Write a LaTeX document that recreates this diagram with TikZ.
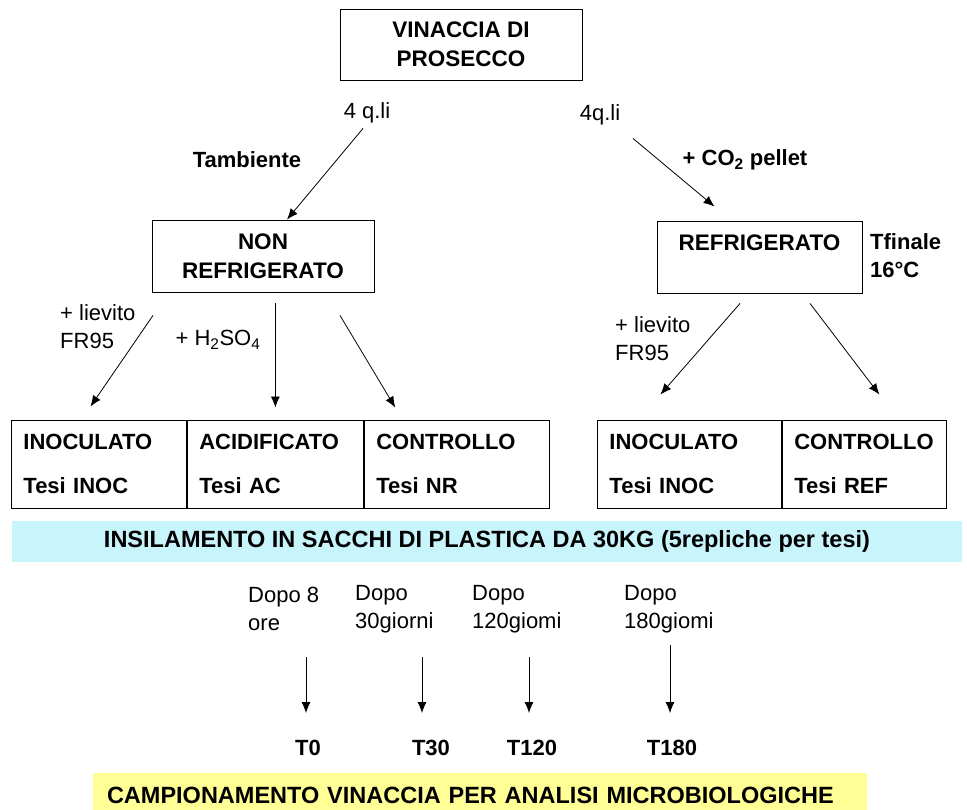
\documentclass[tikz,border=0pt]{standalone}
\usepackage{fontspec}
\setmainfont{Liberation Sans}
\usetikzlibrary{arrows.meta,calc,positioning}

\definecolor{bandcyan}{RGB}{200,245,252}
\definecolor{bandyellow}{RGB}{255,255,150}

\tikzset{
  box/.style={draw, line width=0.9pt, align=center, inner sep=0pt,
    font=\bfseries\fontsize{22.5}{29}\selectfont},
  cell/.style={draw, line width=0.9pt, anchor=west, align=left,
    inner xsep=12pt, inner ysep=0pt, minimum height=88pt,
    font=\bfseries\fontsize{22}{44}\selectfont},
  lbl/.style={inner sep=0pt, font=\fontsize{22}{28}\selectfont},
  blbl/.style={inner sep=0pt, font=\bfseries\fontsize{22}{28}\selectfont},
  band/.style={inner sep=0pt, font=\bfseries\fontsize{23.5}{28}\selectfont},
  arr/.style={-{Latex[length=11pt,width=9pt]}, line width=0.8pt},
}

\begin{document}
\begin{tikzpicture}[x=1pt,y=-1pt]
  \useasboundingbox (0,0) rectangle (967,809);

  % starting material
  \node[box, minimum width=242pt, minimum height=71pt] (vin) at (461,44.5)
    {VINACCIA DI\\PROSECCO};
  \node[lbl] (qli1) at (367,113) {4 q.li};
  \node[lbl] (qli2) at (600,115) {4q.li};

  % two branches
  \node[box, minimum width=222pt, minimum height=72pt] (nonref) at (263,256)
    {NON\\REFRIGERATO};
  \node[box, minimum width=205pt, minimum height=72pt] (ref) at (759.5,257)
    {REFRIGERATO\\\mbox{}};
  \node[blbl] (tamb) at (247,160) {Tambiente};
  \node[blbl] (co2) at (745,160) {+ CO\textsubscript{2} pellet};
  \node[blbl, anchor=west, align=left] (tfin) at (870,256) {Tfinale\\16°C};

  \draw[arr] ($(vin.south)+(-98,48)$) -- ($(nonref.north)+(24,0)$);
  \draw[arr] ($(vin.south)+(172,58)$) -- ($(ref.north)+(-45,-14)$);

  % theses
  \node[cell, text width=151pt] (inoc) at (11,464) {INOCULATO\\Tesi INOC};
  \node[cell, text width=152pt] (acid) at (inoc.east) {ACIDIFICATO\\Tesi AC};
  \node[cell, text width=161pt] (contr) at (acid.east) {CONTROLLO\\Tesi NR};
  \node[cell, text width=160pt] (inocr) at (597,464) {INOCULATO\\Tesi INOC};
  \node[cell, text width=140pt] (contrr) at (inocr.east) {CONTROLLO\\Tesi REF};

  \node[lbl, anchor=west, align=left] (liev1) at (60,326.5) {+ lievito\\FR95};
  \node[lbl] (acido) at (218,340) {+ H\textsubscript{2}SO\textsubscript{4}};
  \node[lbl, anchor=west, align=left] (liev2) at (615,339) {+ lievito\\FR95};

  \draw[arr] ($(nonref.south)+(-110,23)$) -- ($(inoc.north)+(-8.5,-13)$);
  \draw[arr] ($(acid.north |- nonref.south)+(0,11)$) -- ($(acid.north)+(0,-12)$);
  \draw[arr] ($(nonref.south)+(77,23)$) -- ($(contr.north)+(-61.5,-12)$);
  \draw[arr] ($(ref.south)+(-19.5,10)$) -- ($(inocr.north)+(-29,-25)$);
  \draw[arr] ($(ref.south)+(50.5,10)$) -- ($(contrr.north)+(15,-25)$);

  % ensiling
  \node[band, fill=bandcyan, minimum width=950pt, minimum height=41pt] (insil)
    at (487,541.5) {INSILAMENTO IN SACCHI DI PLASTICA DA 30KG (5repliche per tesi)};

  % sampling times
  \node[lbl, anchor=west, align=left] (d0) at (248,609) {Dopo 8\\ore};
  \node[lbl, anchor=west, align=left] (d30) at (355,609) {Dopo\\30giorni};
  \node[lbl, anchor=west, align=left] (d120) at (472,609) {Dopo\\120giomi};
  \node[lbl, anchor=west, align=left] (d180) at (624,609) {Dopo\\180giomi};

  \coordinate (s0) at (306,657);   \coordinate (e0) at (306,713);
  \coordinate (s30) at (422,657);  \coordinate (e30) at (422,713);
  \coordinate (s120) at (529,657); \coordinate (e120) at (529,713);
  \coordinate (s180) at (670,645); \coordinate (e180) at (670,713);
  \draw[arr] (s0) -- (e0);
  \draw[arr] (s30) -- (e30);
  \draw[arr] (s120) -- (e120);
  \draw[arr] (s180) -- (e180);

  \node[blbl] (t0) at (308,748) {T0};
  \node[blbl] (t30) at (431,748) {T30};
  \node[blbl] (t120) at (532,748) {T120};
  \node[blbl] (t180) at (672,748) {T180};

  % sampling
  \node[band, fill=bandyellow, minimum height=44pt, align=left,
    text width=746pt, inner xsep=14pt] (camp) at (480,795)
    {CAMPIONAMENTO VINACCIA PER ANALISI MICROBIOLOGICHE};
\end{tikzpicture}
\end{document}
